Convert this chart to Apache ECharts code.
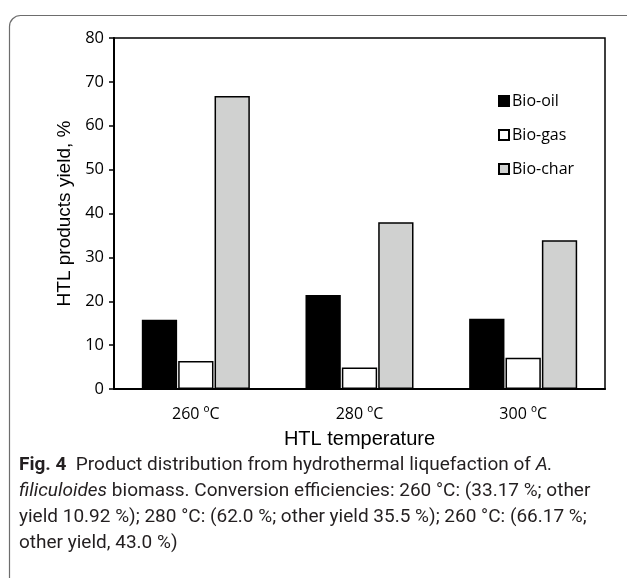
<!DOCTYPE html>
<html>
<head>
<meta charset="utf-8">
<script src="https://cdn.jsdelivr.net/npm/echarts@6/dist/echarts.min.js"></script>
<style>html,body{margin:0;padding:0;background:#fff;}#c{width:627px;height:578px;}</style>
</head>
<body>
<div id="c"></div>
<script>
var categories = ['260 ºC', '280 ºC', '300 ºC'];
var bioOil = [15.8, 21.4, 16.0];
var bioGas = [6.4, 4.9, 7.1];
var bioChar = [66.8, 38.0, 33.9];
var yTicks = [0, 10, 20, 30, 40, 50, 60, 70, 80];
var seriesNames = ['Bio-oil', 'Bio-gas', 'Bio-char'];
var captionLines = [
  '{b|Fig. 4}  Product distribution from hydrothermal liquefaction of {i|A.}',
  '{i|filiculoides} biomass. Conversion efficiencies: 260 °C: (33.17 %; other',
  'yield 10.92 %); 280 °C: (62.0 %; other yield 35.5 %); 260 °C: (66.17 %;',
  'other yield, 43.0 %)'
];

var chart = echarts.init(document.getElementById('c'), null, {renderer: 'canvas'});
var tickFont = '"Open Sans", "Noto Sans", sans-serif';
var capFont = 'Roboto, "Noto Sans", sans-serif';
var capSize = 19;

var graphics = [{
  type: 'rect', left: 7, top: 13, silent: true, z: -10,
  shape: {x: 0, y: 0, width: 650, height: 580, r: 11},
  style: {fill: 'none', stroke: '#6d6d6d', lineWidth: 1.2}
}];
captionLines.forEach(function (line, i) {
  graphics.push({
    type: 'text', left: 19, top: 456 + i * 26, silent: true,
    style: {
      text: line, fill: '#231f20', fontFamily: capFont, fontSize: capSize,
      rich: {
        b: {fontWeight: 'bold', fontFamily: capFont, fontSize: capSize, fill: '#231f20'},
        i: {fontStyle: 'italic', fontFamily: capFont, fontSize: capSize, fill: '#231f20'}
      }
    }
  });
});

var colors = ['#000000', '#ffffff', '#d0d1d0'];
var datas = [bioOil, bioGas, bioChar];

chart.setOption({
  animation: false,
  backgroundColor: '#ffffff',
  grid: {left: 114, top: 38, right: 22, bottom: 189, show: true, borderColor: '#000', borderWidth: 1.5, backgroundColor: 'transparent'},
  legend: {
    orient: 'vertical', left: 493, top: 88, itemGap: 18, itemWidth: 10, itemHeight: 10,
    icon: 'rect',
    data: seriesNames,
    textStyle: {fontFamily: tickFont, fontSize: 16, color: '#000', lineHeight: 16, padding: [0, 0, 0, -2]}
  },
  xAxis: {
    type: 'category', data: categories,
    axisLine: {lineStyle: {color: '#000', width: 2}},
    axisTick: {show: false},
    axisLabel: {fontFamily: tickFont, fontSize: 16, color: '#000', margin: 17},
    name: 'HTL temperature', nameLocation: 'middle', nameGap: 40,
    nameTextStyle: {fontFamily: '"Liberation Sans", Arial, sans-serif', fontSize: 20, color: '#000'}
  },
  yAxis: {
    type: 'value', min: 0, max: 80, interval: 10,
    axisLine: {show: true, lineStyle: {color: '#000', width: 2}},
    axisTick: {show: true, inside: false, length: 5, lineStyle: {color: '#000', width: 1.5}},
    splitLine: {show: false},
    axisLabel: {fontFamily: tickFont, fontSize: 16.5, color: '#000', margin: 10,
      formatter: function (v) { return yTicks.indexOf(v) >= 0 ? String(v) : ''; }},
    name: 'HTL products yield, %', nameLocation: 'middle', nameGap: 37,
    nameTextStyle: {fontFamily: '"Liberation Sans", Arial, sans-serif', fontSize: 19, color: '#000'}
  },
  series: seriesNames.map(function (n, i) {
    return {
      name: n, type: 'bar', data: datas[i],
      barGap: '3%', barCategoryGap: '34%',
      itemStyle: {color: colors[i], borderColor: '#000', borderWidth: 1.5}
    };
  }),
  graphic: graphics
});
</script>
</body>
</html>
